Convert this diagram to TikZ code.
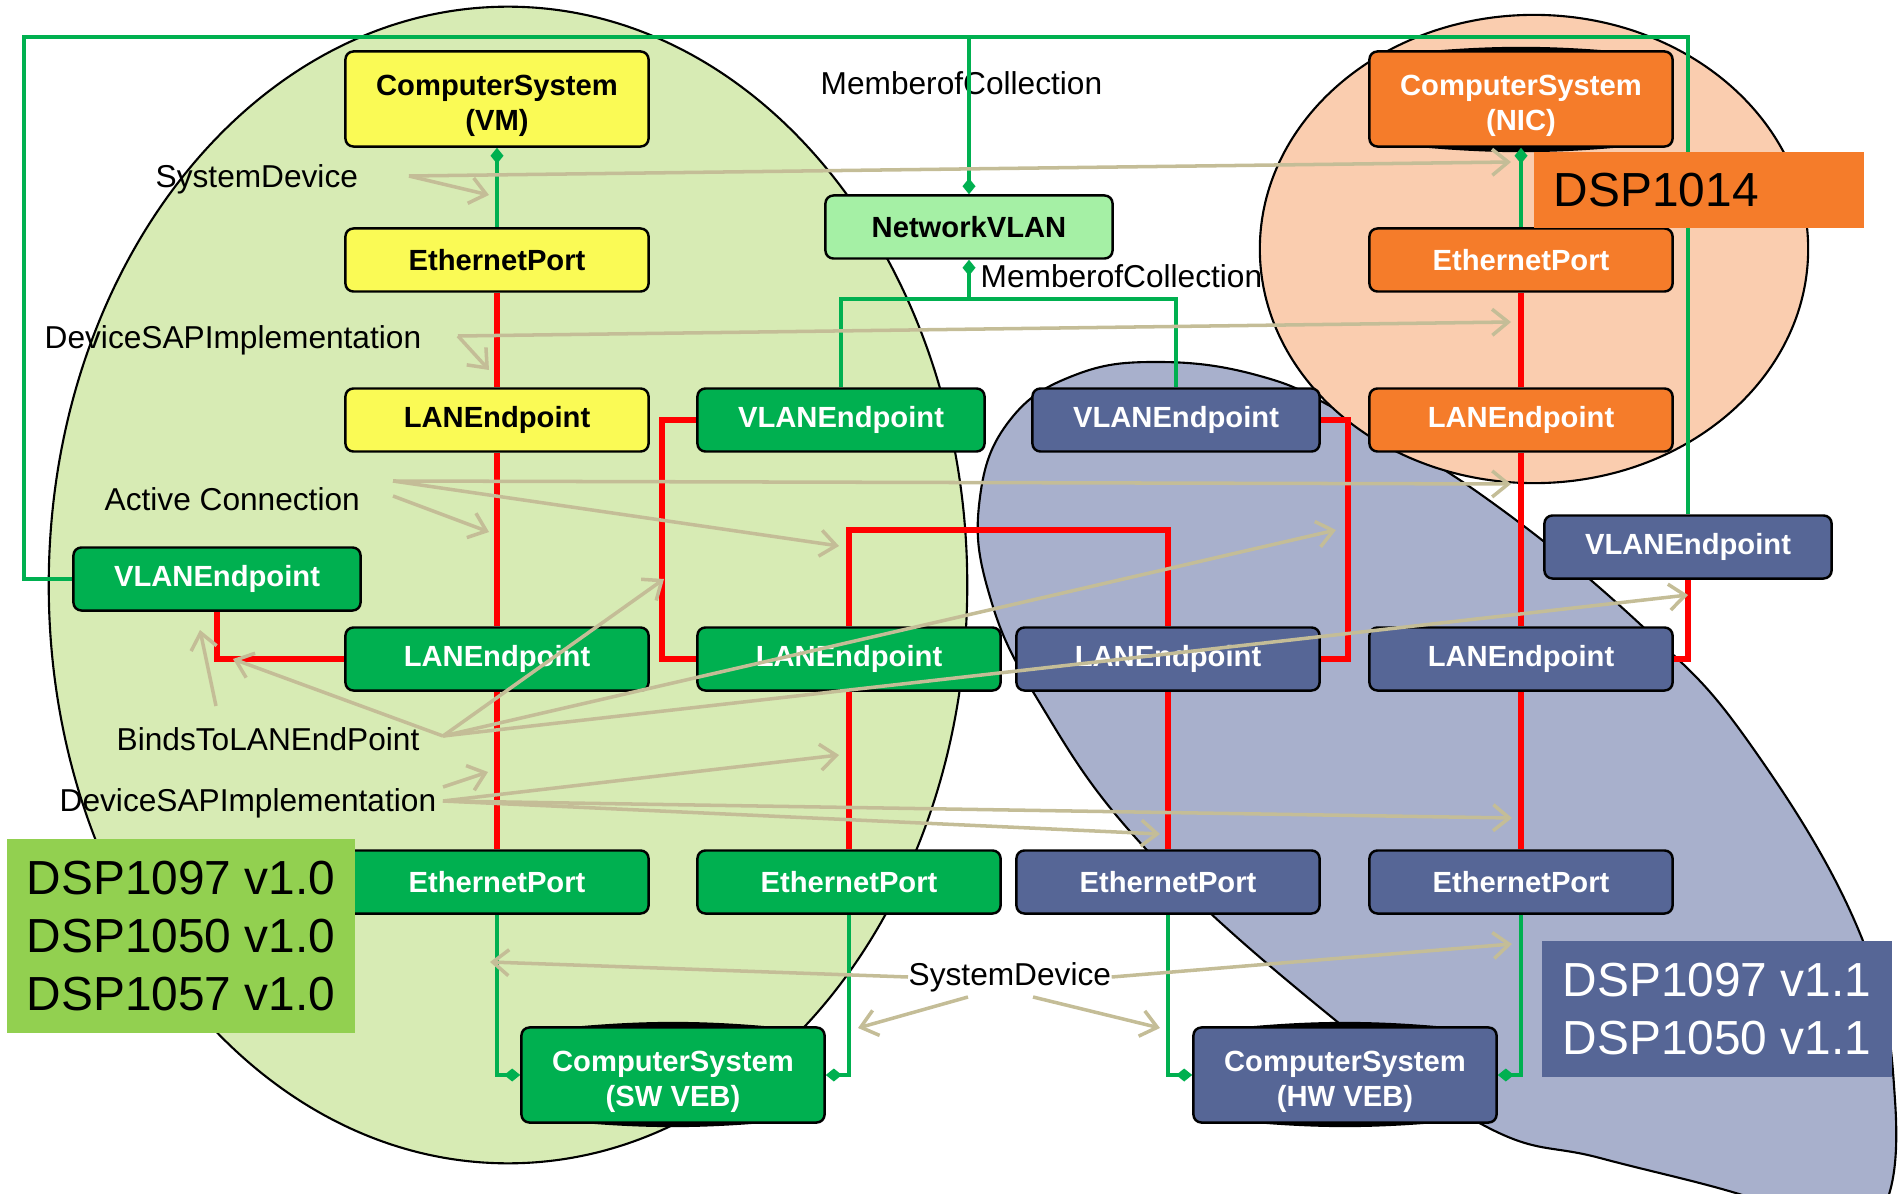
\documentclass[tikz,border=0pt]{standalone}
\usepackage{fontspec}
\setmainfont{Liberation Sans}
\usetikzlibrary{arrows.meta}

\definecolor{boxgreen}{RGB}{0,176,80}
\definecolor{boxblue}{RGB}{86,102,150}
\definecolor{boxorange}{RGB}{245,124,42}
\definecolor{boxyellow}{RGB}{250,250,85}
\definecolor{vlangreen}{RGB}{165,240,165}
\definecolor{dspgreen}{RGB}{146,208,80}
\definecolor{areagreen}{RGB}{215,235,180}
\definecolor{areaorange}{RGB}{250,205,175}
\definecolor{areablue}{RGB}{168,176,204}
\definecolor{linegreen}{RGB}{0,176,80}
\definecolor{linered}{RGB}{255,0,0}
\definecolor{linegray}{RGB}{196,189,151}

\begin{document}
\begin{tikzpicture}[x=0.01cm,y=-0.01cm,
  box/.style={rectangle,rounded corners=0.08cm,draw=black,line width=0.7pt,minimum width=3.03cm,minimum height=0.63cm,inner sep=0pt,text=white,align=center,font=\fontsize{8.3}{10}\selectfont\bfseries},
  vbox/.style={box,minimum width=2.87cm},
  csbox/.style={box,minimum height=0.95cm,execute at begin node=\rule{0pt}{19.5pt}},
  gline/.style={draw=linegreen,line width=1.3pt},
  rline/.style={draw=linered,line width=1.6pt},
  note/.style={draw=linegray,line width=1pt,-{Straight Barb[length=1.6mm,width=2.6mm]}},
  diam/.tip={Diamond[length=1.6mm,width=1.3mm]},
  lbl/.style={anchor=west,inner sep=0pt,font=\fontsize{9}{11}\selectfont},
  dsp/.style={rectangle,inner ysep=0pt,inner xsep=0.2cm,align=left,font=\fontsize{13.6}{16.4}\selectfont}]
  \useasboundingbox (0,0) rectangle (1902,1194);
  \clip (0,0) rectangle (1902,1194);

  \draw[fill=areagreen,line width=0.6pt] (508,585) ellipse [x radius=4.59cm,y radius=5.78cm];
  \draw[fill=areablue,line width=0.6pt] plot[smooth cycle,tension=0.7] coordinates {(1160,362) (1260,376) (1343,413) (1483,496) (1641,625) (1750,744) (1861,936) (1895,1100) (1880,1215) (1820,1225) (1739,1194) (1600,1158) (1485,1126) (1329,1015) (1145,848) (1038,700) (988,590) (980,497) (1010,420) (1075,375)};
  \draw[fill=areaorange,line width=0.6pt] (1534,249) ellipse [x radius=2.74cm,y radius=2.34cm];

  \fill (540,1030) to[bend left=6] (806,1030) -- (806,1119) to[bend left=6] (540,1119) -- cycle;
  \fill (1212,1030) to[bend left=6] (1478,1030) -- (1478,1119) to[bend left=6] (1212,1119) -- cycle;
  \fill (1387,55) to[bend left=6] (1655,55) -- (1655,144) to[bend left=6] (1387,144) -- cycle;

  \node[csbox,fill=boxyellow,text=black] (csvm) at (497,99) {ComputerSystem\\(VM)};
  \node[box,fill=boxyellow,text=black] (ethvm) at (497,260) {EthernetPort};
  \node[box,fill=boxyellow,text=black] (lanvm) at (497,420) {LANEndpoint};
  \node[vbox,fill=boxgreen] (vlanl) at (217,579) {VLANEndpoint};
  \node[box,fill=boxgreen] (lan1) at (497,659) {LANEndpoint};
  \node[box,fill=boxgreen] (eth1) at (497,882) {EthernetPort};
  \node[csbox,fill=boxgreen] (cssw) at (673,1075) {ComputerSystem\\(SW VEB)};
  \node[vbox,fill=vlangreen,text=black] (nvlan) at (969,227) {NetworkVLAN};
  \node[vbox,fill=boxgreen] (vlanm) at (841,420) {VLANEndpoint};
  \node[box,fill=boxgreen] (lan2) at (849,659) {LANEndpoint};
  \node[box,fill=boxgreen] (eth2) at (849,882) {EthernetPort};
  \node[vbox,fill=boxblue] (vlanb) at (1176,420) {VLANEndpoint};
  \node[box,fill=boxblue] (lan3) at (1168,659) {LANEndpoint};
  \node[box,fill=boxblue] (eth3) at (1168,882) {EthernetPort};
  \node[csbox,fill=boxblue] (cshw) at (1345,1075) {ComputerSystem\\(HW VEB)};
  \node[csbox,fill=boxorange] (csnic) at (1521,99) {ComputerSystem\\(NIC)};
  \node[box,fill=boxorange] (ethnic) at (1521,260) {EthernetPort};
  \node[box,fill=boxorange] (lannic) at (1521,420) {LANEndpoint};
  \node[vbox,fill=boxblue] (vlanr) at (1688,547) {VLANEndpoint};
  \node[box,fill=boxblue] (lan4) at (1521,659) {LANEndpoint};
  \node[box,fill=boxblue] (eth4) at (1521,882) {EthernetPort};

  \draw[rline] (ethvm) -- (lanvm);
  \draw[rline] (lanvm) -- (lan1);
  \draw[rline] (lan1) -- (eth1);
  \draw[rline] (lan2) -- (eth2);
  \draw[rline] (lan3) -- (eth3);
  \draw[rline] (ethnic) -- (lannic);
  \draw[rline] (lannic) -- (lan4);
  \draw[rline] (lan4) -- (eth4);
  \draw[rline] (lan1.west) -| (vlanl.south);
  \draw[rline] (vlanm.west) -- ++(-34,0) |- (lan2.west);
  \draw[rline] (lan2.north) -- ++(0,-96) -| (lan3.north);
  \draw[rline] (vlanb.east) -- ++(27,0) |- (lan3.east);
  \draw[rline] (vlanr.south) |- (lan4.east);

  \node[lbl] (mc1) at (820,83) {MemberofCollection};
  \node[lbl] (mc2) at (980,276) {MemberofCollection};

  \coordinate (topl) at (24,37);
  \coordinate (mjoin) at (969,299);
  \draw[gline] (vlanl.west) -| (topl) -| (vlanr.north);
  \draw[gline,-diam] (nvlan.north |- topl) -- (nvlan.north);
  \draw[gline,diam-] (nvlan.south) -- (mjoin) -| (vlanm.north);
  \draw[gline] (mjoin) -| (vlanb.north);
  \draw[gline,diam-] (csvm) -- (ethvm);
  \draw[gline,diam-] (csnic) -- (ethnic);
  \draw[gline,-diam] (eth1.south) |- (cssw.west);
  \draw[gline,-diam] (eth2.south) |- (cssw.east);
  \draw[gline,-diam] (eth3.south) |- (cshw.west);
  \draw[gline,-diam] (eth4.south) |- (cshw.east);

  \node[lbl] (sd1) at (155,179) {SystemDevice};
  \node[lbl] (dsa1) at (44,340) {DeviceSAPImplementation};
  \node[lbl] (ac) at (104,499) {Active Connection};
  \node[lbl] (btl) at (116,739) {BindsToLANEndPoint};
  \node[lbl] (dsa2) at (59,803) {DeviceSAPImplementation};
  \node[lbl] (sd2) at (908,977) {SystemDevice};

  \foreach \n/\x/\y in {o1/409/176,o2/458/336,o3/393/481,o4/393/496,o5/443/736,o6/216/706,o7/443/787,o8/443/801,o11/968/997,o12/1033/997,
    t1/489/195,t2/1511/162,t3/489/370,t4/1511/322,t5/1511/484,t6/839/546,t7/489/532,t8/233/659,t9/664/579,t10/1336/530,
    t11/1688/595,t12/200/630,t13/488/772,t14/839/755,t15/1160/834,t16/1512/818,t17/490/962,t18/1512/944,t19/858/1028,t20/1160/1028}
    \coordinate (\n) at (\x,\y);
  \foreach \a/\b in {o1/t1,o1/t2,o2/t3,o2/t4,o3/t5,o3/t6,o4/t7,o5/t8,o5/t9,o5/t10,o5/t11,o6/t12,o7/t13,o8/t14,o8/t15,o8/t16,
    sd2.west/t17,sd2.east/t18,o11/t19,o12/t20}
    \draw[note] (\a) -- (\b);

  \node[dsp,fill=dspgreen,minimum width=3.48cm,minimum height=1.94cm] (dspa) at (181,936) {DSP1097 v1.0\\DSP1050 v1.0\\DSP1057 v1.0};
  \node[dsp,fill=boxorange,text width=2.9cm,minimum height=0.75cm] (dspb) at (1699,190) {DSP1014};
  \node[dsp,fill=boxblue,text=white,minimum width=3.49cm,minimum height=1.36cm] (dspc) at (1717,1009) {DSP1097 v1.1\\DSP1050 v1.1};
\end{tikzpicture}
\end{document}
